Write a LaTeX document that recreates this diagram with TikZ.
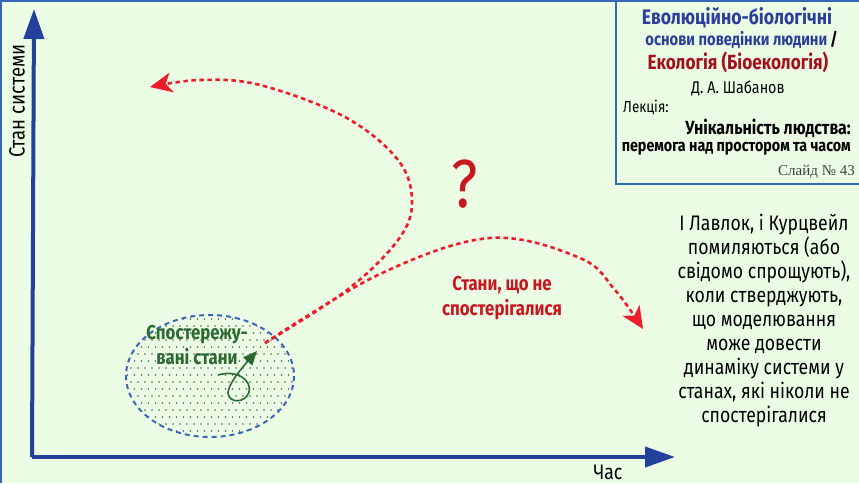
\documentclass[tikz,border=0pt]{standalone}
\usepackage{fontspec}
\setmainfont{Fira Sans}[FakeStretch=0.84]
\newfontfamily\slidefont{Liberation Serif}
\usetikzlibrary{arrows.meta}
\definecolor{bg}{HTML}{ECFDE5}
\definecolor{frameblue}{HTML}{3567B5}
\definecolor{axisblue}{HTML}{23419B}
\definecolor{dashblue}{HTML}{3A68B5}
\definecolor{redline}{HTML}{EE1D2B}
\definecolor{redtext}{HTML}{C8161E}
\definecolor{titleblue}{HTML}{2A3E9C}
\definecolor{titlered}{HTML}{A3101C}
\definecolor{obsgreen}{HTML}{2D6A31}
\definecolor{dotgray}{HTML}{5A5F5A}
\tikzset{
  axisline/.style={axisblue, line width=4, -{Triangle[length=30, width=20]}},
  reddash/.style={redline, line width=2.6, dash pattern=on 4.5 off 3.5, -{Stealth[length=22, width=20, inset=6]}},
  titletext/.style={inner sep=0, anchor=center},
}
\begin{document}
\begin{tikzpicture}[x=1pt, y=-1pt]
\fill[bg] (0,0) rectangle (859,483);
\useasboundingbox (0,0) rectangle (859,483);
\draw[frameblue, line width=1.5] (0.75,483) -- (0.75,0.75) -- (859,0.75);

% title box
\draw[frameblue, line width=1.3] (616,0) -- (616,184) -- (859,184);
\node[titletext, font=\bfseries\fontsize{21}{23}\selectfont, text=titleblue] (t1) at (737,18) {Еволюційно-біологічні};
\node[inner sep=0, anchor=east, font=\bfseries\fontsize{17.5}{19}\selectfont, text=titleblue] (t2) at (838,40) {основи поведінки людини\,\textcolor{black}{/}};
\node[titletext, font=\bfseries\fontsize{20.5}{22}\selectfont, text=titlered] (t3) at (738,62) {Екологія (Біоекологія)};
\node[titletext, font=\fontsize{17}{19}\selectfont] (t4) at (738,88) {Д. А. Шабанов};
\node[inner sep=0, anchor=west, font=\fontsize{16}{18}\selectfont] (t5) at (623,107) {Лекція:};
\node[inner sep=0, anchor=east, font=\bfseries\fontsize{19}{21}\selectfont] (t6) at (851,128) {Унікальність людства:};
\node[inner sep=0, anchor=east, font=\bfseries\fontsize{17}{19}\selectfont] (t7) at (851,149) {перемога над простором та часом};
\node[inner sep=0, anchor=east, font=\slidefont\fontsize{15}{17}\selectfont, text=black!75] (t8) at (855,172) {Слайд №~43};

% axes
\coordinate (origin) at (34,457);
\coordinate (ytip) at (34,9);
\coordinate (xtip) at (675,457);
\draw[axisline] ([xshift=-2]origin) -- (ytip);
\draw[axisline] ([yshift=0]origin) -- (xtip);
\draw[axisblue, line width=4] (32,457) -- (36,457);
\node[rotate=90, inner sep=0, font=\fontsize{22}{24}\selectfont] (ylab) at (17,101) {Стан системи};
\node[inner sep=0, font=\fontsize{21}{23}\selectfont] (xlab) at (608,472) {Час};

% observed states ellipse
\begin{scope}
\clip (210,376) ellipse [x radius=84, y radius=61];
\foreach \r in {0,...,18}{
  \pgfmathsetmacro{\yy}{312+\r*7}
  \pgfmathsetmacro{\off}{mod(\r,2)*3.5}
  \foreach \c in {0,...,25}{
    \fill[dotgray] ({124+\off+\c*7},\yy) circle (0.8);
  }
}
\end{scope}
\draw[dashblue, line width=2, dash pattern=on 5 off 4] (210,376) ellipse [x radius=84, y radius=61];
\node[inner sep=0, align=center, font=\bfseries\fontsize{20}{25}\selectfont, text=obsgreen] (obs) at (197,345) {Спостережу-\\вані стани};

% green scribble arrow
\draw[obsgreen, line width=1.6, -{Triangle[length=14, width=12]}]
  (218,375) .. controls (238,369) and (252,381) .. (249,392)
  .. controls (246,403) and (229,404) .. (228,393)
  .. controls (228,385) and (240,370) .. (257,351);

% red dashed curves
\coordinate (start) at (265,343);
\coordinate (endA) at (150,87);
\coordinate (endB) at (643,329);
\draw[reddash] plot[smooth, tension=0.6] coordinates {(start) (347,290) (398,240) (412,202) (398,160) (345,117) (260,85) (200,80) (150,87)};
\draw[reddash] plot[smooth, tension=0.6] coordinates {(start) (380,274) (490,238) (580,258) (615,290) (643,329)};

\node[inner sep=0, font=\fontsize{68}{70}\selectfont, text=redtext] (q) at (465,184) {?};
\node[inner sep=0, align=center, font=\bfseries\fontsize{20}{25}\selectfont, text=redtext] (unobs) at (502,298) {Стани, що не\\спостерігалися};

\node[inner sep=0, align=center, font=\fontsize{21}{24}\selectfont] (note) at (764,321) {І Лавлок, і Курцвейл\\помиляються (або\\свідомо спрощують),\\коли стверджують,\\що моделювання\\може довести\\динаміку системи у\\станах, які ніколи не\\спостерігалися};
\end{tikzpicture}
\end{document}
